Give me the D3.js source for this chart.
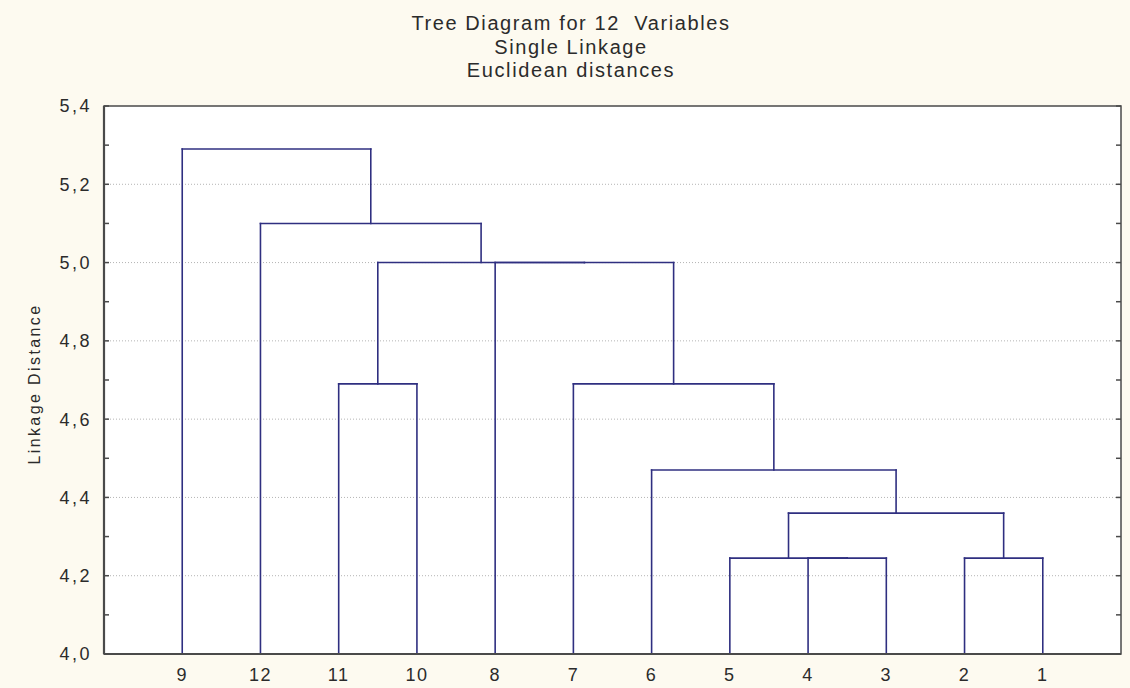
<!DOCTYPE html>
<html>
<head>
<meta charset="utf-8">
<script src="https://cdnjs.cloudflare.com/ajax/libs/d3/7.8.5/d3.min.js"></script>
<style>
  body { margin: 0; background: #fdfaf0; }
  svg { display: block; }
  text { font-family: "Liberation Sans", Arial, sans-serif; fill: #2b2b2b; }
</style>
</head>
<body>
<div class="chart"></div>
<script>
var width = 1130,
    height = 688;

// leaves, in drawing order
var leaves = ["9", "12", "11", "10", "8", "7", "6", "5", "4", "3", "2", "1"];

// merge k makes cluster "C" + (k+1)
var mergeA = ["4", "5", "2", "C2", "6", "7", "11", "8", "C7", "12", "9"];
var mergeB = ["3", "C1", "1", "C3", "C4", "C5", "10", "C6", "C8", "C9", "C10"];
var mergeHeight = [4.245, 4.245, 4.245, 4.36, 4.47, 4.69, 4.69, 5.0, 5.0, 5.10, 5.29];

var yTicks = [4.0, 4.2, 4.4, 4.6, 4.8, 5.0, 5.2, 5.4];
var yMinor = [4.0, 4.1, 4.2, 4.3, 4.4, 4.5, 4.6, 4.7, 4.8, 4.9, 5.0, 5.1, 5.2, 5.3, 5.4];

var titleLines = ["Tree Diagram for 12  Variables", "Single Linkage", "Euclidean distances"];

var plotL = 104, plotR = 1121, plotT = 106, plotB = 654;

var svg = d3.select(".chart").append("svg")
    .attr("width", width)
    .attr("height", height);

svg.append("rect")
    .attr("x", plotL).attr("y", plotT)
    .attr("width", plotR - plotL).attr("height", plotB - plotT)
    .style("fill", "#fff");

var x = d3.scalePoint()
    .domain(leaves)
    .range([plotL, plotR])
    .padding(1);

var y = d3.scaleLinear()
    .domain([4.0, 5.4])
    .range([plotB, plotT]);

var fmt = d3.formatLocale({ decimal: ",", thousands: ".", grouping: [3], currency: ["", ""] }).format(".1f");

// grid lines
svg.append("g")
    .selectAll("line")
    .data(yTicks.filter(function (d) { return d > 4.0 && d < 5.4; }))
    .enter().append("line")
    .attr("x1", plotL).attr("x2", plotR)
    .attr("y1", function (d) { return y(d); })
    .attr("y2", function (d) { return y(d); })
    .style("stroke", "#b4b4b4")
    .style("stroke-width", 1)
    .style("stroke-dasharray", "1,2");

// tree nodes
var nodes = {};
leaves.forEach(function (d) {
    nodes[d] = { x: x(d), h: 4.0 };
});

var segs = [];
mergeA.forEach(function (a, i) {
    var A = nodes[a], B = nodes[mergeB[i]], h = mergeHeight[i];
    segs.push([A.x, A.h, A.x, h]);
    segs.push([B.x, B.h, B.x, h]);
    segs.push([A.x, h, B.x, h]);
    nodes["C" + (i + 1)] = { x: (A.x + B.x) / 2, h: h };
});

svg.append("g")
    .selectAll("line")
    .data(segs)
    .enter().append("line")
    .attr("x1", function (d) { return d[0]; })
    .attr("y1", function (d) { return y(d[1]); })
    .attr("x2", function (d) { return d[2]; })
    .attr("y2", function (d) { return y(d[3]); })
    .style("stroke", "#2f2f80")
    .style("stroke-width", 1.6)
    .style("stroke-linecap", "square");

// frame
svg.append("rect")
    .attr("x", plotL).attr("y", plotT)
    .attr("width", plotR - plotL).attr("height", plotB - plotT)
    .style("fill", "none")
    .style("stroke", "#4a4a4a")
    .style("stroke-width", 1.5);
svg.append("line")
    .attr("x1", plotL).attr("x2", plotL).attr("y1", plotT).attr("y2", plotB)
    .style("stroke", "#4a4a4a").style("stroke-width", 2.2);
svg.append("line")
    .attr("x1", plotL).attr("x2", plotR).attr("y1", plotB).attr("y2", plotB)
    .style("stroke", "#4a4a4a").style("stroke-width", 2.2);

// minor ticks on both sides, inward
var ticks = svg.append("g");
ticks.selectAll("line.l")
    .data(yMinor)
    .enter().append("line")
    .attr("class", "l")
    .attr("x1", plotL).attr("x2", plotL + 5)
    .attr("y1", function (d) { return y(d); })
    .attr("y2", function (d) { return y(d); })
    .style("stroke", "#4a4a4a").style("stroke-width", 1.5);
ticks.selectAll("line.r")
    .data(yMinor)
    .enter().append("line")
    .attr("class", "r")
    .attr("x1", plotR - 5).attr("x2", plotR)
    .attr("y1", function (d) { return y(d); })
    .attr("y2", function (d) { return y(d); })
    .style("stroke", "#4a4a4a").style("stroke-width", 1.5);

// y labels
svg.append("g")
    .selectAll("text")
    .data(yTicks)
    .enter().append("text")
    .attr("x", plotL - 12)
    .attr("y", function (d) { return y(d); })
    .attr("dy", "0.36em")
    .attr("text-anchor", "end")
    .style("font-size", "18px")
    .style("letter-spacing", "2.5px")
    .text(function (d) { return fmt(d); });

// x labels
svg.append("g")
    .selectAll("text")
    .data(leaves)
    .enter().append("text")
    .attr("x", function (d) { return x(d); })
    .attr("y", 681)
    .attr("text-anchor", "middle")
    .style("font-size", "18px")
    .style("letter-spacing", "1.5px")
    .text(function (d) { return d; });

// y title
svg.append("text")
    .attr("transform", "translate(40,384) rotate(-90)")
    .attr("text-anchor", "middle")
    .style("font-size", "16px")
    .style("letter-spacing", "2.4px")
    .text("Linkage Distance");

// title
svg.append("g")
    .selectAll("text")
    .data(titleLines)
    .enter().append("text")
    .attr("x", 571)
    .attr("y", function (d, i) { return 30 + i * 23.5; })
    .attr("text-anchor", "middle")
    .attr("xml:space", "preserve")
    .style("white-space", "pre")
    .style("font-size", "20px")
    .style("letter-spacing", "1.6px")
    .text(function (d) { return d; });
</script>
</body>
</html>
